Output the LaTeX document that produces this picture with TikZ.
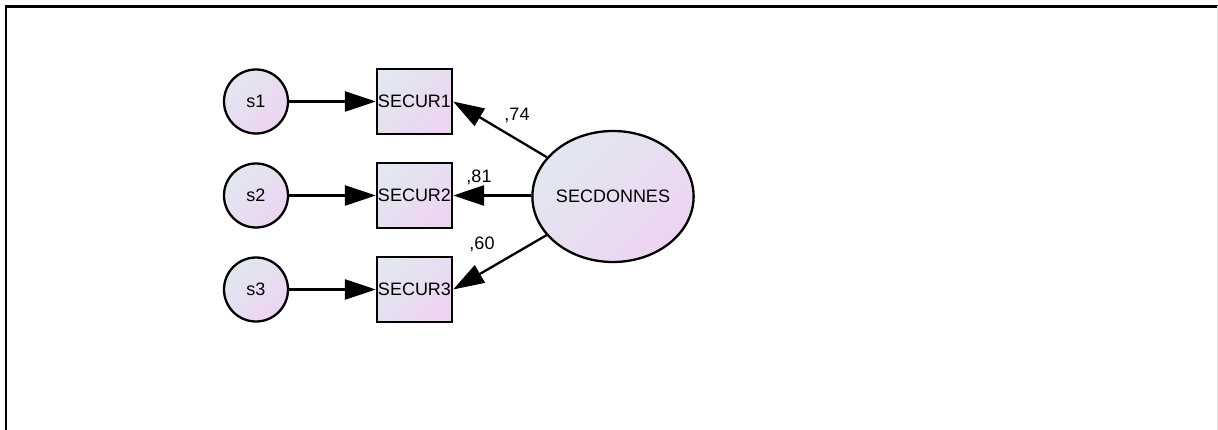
\documentclass[tikz,border=0pt]{standalone}
\usepackage{fontspec}
\setmainfont{Liberation Sans}
\usetikzlibrary{arrows.meta,shapes.geometric}

\definecolor{semtop}{RGB}{226,231,240}
\definecolor{sembot}{RGB}{237,212,241}
\newcommand{\semfont}{\fontsize{18}{20}\selectfont}

\tikzset{
    semfill/.style={top color=semtop, bottom color=sembot, shading angle=45},
    errvar/.style={circle, draw, line width=2.3pt, semfill,
        minimum size=64pt, inner sep=0pt, font=\semfont},
    obsvar/.style={rectangle, draw, line width=2.3pt, semfill,
        minimum width=75pt, minimum height=65pt, inner sep=0pt, font=\semfont},
    latvar/.style={ellipse, draw, line width=2.3pt, semfill,
        minimum width=156pt, minimum height=131pt, inner sep=0pt, font=\semfont},
    path/.style={line width=2.3pt, -{Triangle[length=31pt, width=20pt]}},
    weight/.style={inner sep=0pt, font=\semfont}
}

\begin{document}
\begin{tikzpicture}[x=1pt,y=-1pt]

% Canvas
\useasboundingbox (0,0) rectangle (1218,430);
\draw[line width=2.6pt] (6,430) -- (6,6.5) -- (1218,6.5);
\draw[gray!25, line width=0.8pt] (1217,6.5) -- (1217,430);

% Row positions
\def\rowA{101.5}
\def\rowB{195.5}
\def\rowC{289.5}

% Error terms
\node[errvar] (s1) at (256,\rowA) {s1};
\node[errvar] (s2) at (256,\rowB) {s2};
\node[errvar] (s3) at (256,\rowC) {s3};

% Observed items
\node[obsvar] (secur1) at (414.5,\rowA) {SECUR1};
\node[obsvar] (secur2) at (414.5,\rowB) {SECUR2};
\node[obsvar] (secur3) at (414.5,\rowC) {SECUR3};

% Latent factor
\node[latvar] (secdonnes) at (613,196.5) {SECDONNES};

% Error paths
\draw[path] (s1) -- (secur1);
\draw[path] (s2) -- (secur2);
\draw[path] (s3) -- (secur3);

% Loadings
\draw[path] (secdonnes) -- (secur1.east);
\draw[path] (secdonnes.west |- secur2.east) -- (secur2.east);
\draw[path] (secdonnes) -- (secur3.east);

% Standardised weights
\node[weight] (w1) at (517,115) {,74};
\node[weight] (w2) at (479,177) {,81};
\node[weight] (w3) at (482,244) {,60};

\end{tikzpicture}
\end{document}
